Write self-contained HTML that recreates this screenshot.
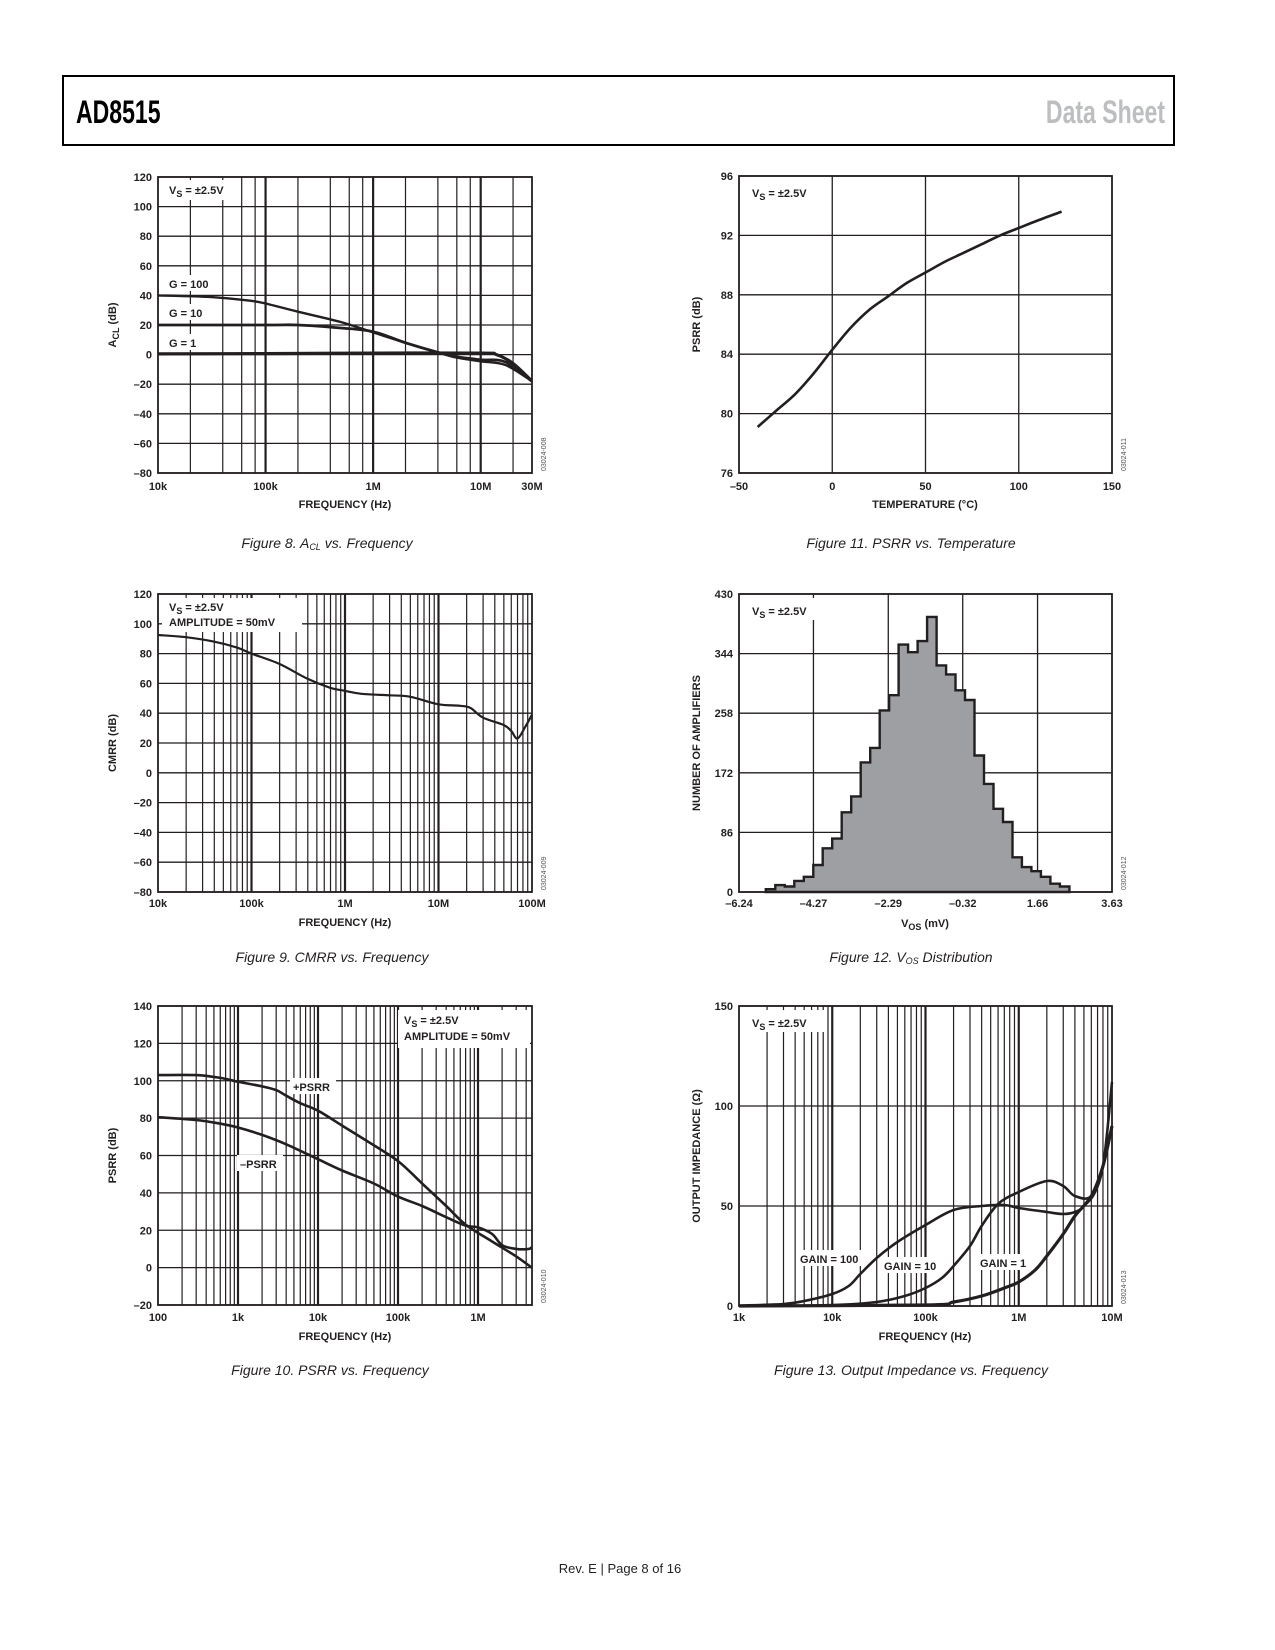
<!DOCTYPE html>
<html><head><meta charset="utf-8">
<style>
html,body{margin:0;padding:0;background:#fff;}
svg{display:block;}
text{font-family:"Liberation Sans",sans-serif;fill:#231f20;}
.tk{font-size:11px;font-weight:bold;}
.ax{font-size:11px;font-weight:bold;}
.cap{font-size:14px;font-style:italic;font-family:"Liberation Sans",sans-serif;}
.wm{font-size:7px;fill:#555;}
</style></head>
<body>
<svg id="page" width="1275" height="1650" viewBox="0 0 1275 1650" xmlns="http://www.w3.org/2000/svg">
  <rect x="63" y="76" width="1111" height="69" fill="none" stroke="#000" stroke-width="2"/>
  <text x="76" y="123" font-size="32" font-weight="bold" transform="translate(76,0) scale(0.72,1) translate(-76,0)" style="fill:#000">AD8515</text>
  <text x="1165" y="123" font-size="32" font-weight="bold" text-anchor="end" transform="translate(1165,0) scale(0.72,1) translate(-1165,0)" style="fill:#bcbec0">Data Sheet</text>
  <text x="620" y="1573" font-size="13" text-anchor="middle">Rev. E | Page 8 of 16</text>
  <g id="charts"></g>
</svg>
<script>
// ---------- Figure 8 data ----------
const f8_g100_f = [1e4,3e4,7e4,1e5,2e5,5e5,1e6,2e6,4e6,6e6,1e7,1.7e7,3e7];
const f8_g100_v = [40,39,36.5,34.5,29,22,15,8,1.5,-2,-4.5,-7,-18];
const f8_g10_f = [1e4,1e5,2e5,5e5,1e6,2e6,4e6,6e6,1e7,1.7e7,3e7];
const f8_g10_v = [20,20,20,18,15.5,8,1.5,-1.5,-3.5,-5,-18];
const f8_g1_f = [1e4,1e5,1e6,1e7,1.4e7,2e7,3e7];
const f8_g1_v = [0.5,0.7,1,1,0,-6,-18];
const f8_xticks = [1e4,1e5,1e6,1e7,3e7];
const f8_xlabels = ['10k','100k','1M','10M','30M'];
const dbTicks8 = [120,100,80,60,40,20,0,-20,-40,-60,-80];
// ---------- Figure 9 data ----------
const f9_f = [1e4,2e4,4e4,7e4,1e5,2e5,4e5,7e5,1e6,1.5e6,3e6,5e6,1e7,1.7e7,2.2e7,3e7,5e7,6e7,7e7,8.5e7,1e8];
const f9_v = [92.5,91,88,84,80,73,63,57,55,53,52,51,46,45,43.5,37,32,28,23,31,39];
const f9_xticks = [1e4,1e5,1e6,1e7,1e8];
const f9_xlabels = ['10k','100k','1M','10M','100M'];
// ---------- Figure 10 data ----------
const f10_pos_f = [100,300,600,1e3,2e3,3e3,4e3,6e3,1e4,2e4,4e4,1e5,2e5,4e5,7e5,1.5e6,3e6,4.7e6];
const f10_pos_v = [103,103,101.5,99.5,97,95,92,88,84,76,68,57,45,33,23,14,6,0];
const f10_neg_f = [100,300,600,1e3,2e3,4e3,1e4,2e4,5e4,1e5,2e5,4e5,7e5,1e6,1.5e6,2e6,3e6,4.3e6,4.7e6];
const f10_neg_v = [80.5,79,77,75,71,66,58,52,45,38,33,27,22.5,21.5,18,12,10,10,11];
const f10_xticks = [100,1e3,1e4,1e5,1e6];
const f10_xlabels = ['100','1k','10k','100k','1M'];
const dbTicks10 = [140,120,100,80,60,40,20,0,-20];
// ---------- Figure 11 data ----------
const f11_t = [-40,-30,-20,-10,0,10,20,30,40,50,60,70,80,90,100,110,123];
const f11_v = [79.1,80.2,81.3,82.7,84.3,85.8,87.0,87.9,88.8,89.5,90.2,90.8,91.4,92.0,92.5,93.0,93.6];
const f11_xticks = [-50,0,50,100,150];
const f11_yticks = [96,92,88,84,80,76];
// ---------- Figure 12 data ----------
const f12_binStart = -5.53;
const f12_binWidth = 0.251;
const f12_counts = [4,10,8,16,22,39,63,77,115,138,187,208,262,284,357,346,362,397,327,314,291,277,197,156,120,101,50,36,30,22,12,8];
const f12_xticks = [-6.24,-4.27,-2.29,-0.32,1.66,3.63];
const f12_yticks = [430,344,258,172,86,0];
// ---------- Figure 13 data ----------
const f13_g100_f = [1e3,3e3,5e3,1e4,1.5e4,2e4,3e4,5e4,1e5,2e5,4e5,7e5,1e6,2e6,3e6,4e6,5e6,7e6,1e7];
const f13_g100_v = [0.2,1,2.5,6,10,16,24,32,40.5,48,50,50.5,49,47,46,47,50,60,90];
const f13_g10_f = [1e3,1e4,3e4,6e4,1e5,1.5e5,2e5,3e5,4e5,6e5,1e6,2e6,3e6,4e6,6e6,8e6,1e7];
const f13_g10_v = [0,0.5,2,5,9,14,20,30,40,51,57,62.5,60,55,55,70,112];
const f13_g1_f = [1e3,1e5,2e5,4e5,7e5,1e6,1.5e6,2e6,3e6,4e6,6e6,8e6,1e7];
const f13_g1_v = [0,0.5,2,5,9,12,18,25,36,45,55,70,90];
const f13_xticks = [1e3,1e4,1e5,1e6,1e7];
const f13_xlabels = ['1k','10k','100k','1M','10M'];
const f13_yticks = [150,100,50,0];

const NS = 'http://www.w3.org/2000/svg';
const root = document.getElementById('charts');
function mk(tag, attrs, name, parent) {
  const e = document.createElementNS(NS, tag);
  for (const k in attrs) e.setAttribute(k, attrs[k]);
  
  
  (parent || root).appendChild(e);
  return e;
}
function txt(x, y, s, cls, name, anchor, parent) {
  const t = mk('text', {x: x, y: y, class: cls, 'text-anchor': anchor || 'start'}, name, parent);
  t.textContent = s;
  return t;
}
function fmt(v) { return (v < 0 ? '\u2013' + Math.abs(v) : '' + v); }
function makeScale(c) {
  const lx = v => c.log ? Math.log10(v) : v;
  c.sx = v => c.x0 + (lx(v) - lx(c.xmin)) / (lx(c.xmax) - lx(c.xmin)) * (c.x1 - c.x0);
  c.sy = v => c.y1 - (v - c.ymin) / (c.ymax - c.ymin) * (c.y1 - c.y0);
  return c;
}
function smoothPath(pts) {
  let d = 'M' + pts[0][0].toFixed(1) + ',' + pts[0][1].toFixed(1);
  for (let i = 0; i < pts.length - 1; i++) {
    const p0 = pts[i - 1] || pts[i], p1 = pts[i], p2 = pts[i + 1], p3 = pts[i + 2] || p2;
    const c1 = [p1[0] + (p2[0] - p0[0]) / 6, p1[1] + (p2[1] - p0[1]) / 6];
    const c2 = [p2[0] - (p3[0] - p1[0]) / 6, p2[1] - (p3[1] - p1[1]) / 6];
    d += 'C' + c1.join(',') + ' ' + c2.join(',') + ' ' + p2[0].toFixed(1) + ',' + p2[1].toFixed(1);
  }
  return d;
}
function curve(c, xs, ys, name, w) {
  const pts = xs.map((x, i) => [c.sx(x), c.sy(ys[i])]);
  mk('path', {d: smoothPath(pts), fill: 'none', stroke: '#231f20', 'stroke-width': w || 2.4, 'stroke-linejoin': 'round'}, name, c.g);
}
function frame(c, id, yticks, minors, wm) {
  c.g = mk('g', {}, id);
  const g = c.g;
  yticks.forEach(v => {
    mk('line', {x1: c.x0, x2: c.x1, y1: c.sy(v), y2: c.sy(v), stroke: '#231f20', 'stroke-width': 1.3}, 'h-gridline', g);
    txt(c.x0 - 6, c.sy(v) + 4, fmt(v), 'tk', 'y-tick-label', 'end', g);
  });
  if (c.log) {
    for (let d = Math.floor(Math.log10(c.xmin)); d <= Math.ceil(Math.log10(c.xmax)); d++) {
      minors.forEach(m => {
        const v = m * Math.pow(10, d);
        if (v <= c.xmin * 1.001 || v >= c.xmax * 0.999) return;
        mk('line', {x1: c.sx(v), x2: c.sx(v), y1: c.y0, y2: c.y1, stroke: '#231f20', 'stroke-width': m === 1 ? 2.2 : 1.2}, 'v-gridline', g);
      });
    }
  }
  mk('rect', {x: c.x0, y: c.y0, width: c.x1 - c.x0, height: c.y1 - c.y0, fill: 'none', stroke: '#231f20', 'stroke-width': 1.8}, 'plot-frame', g);
  const t = txt(c.x1 + 14, c.y1 - 2, wm, 'wm', 'figure-code', 'start', g);
  t.setAttribute('transform', 'rotate(-90 ' + (c.x1 + 14) + ' ' + (c.y1 - 2) + ')');
}
function xlab(c, ticks, labels, ty) {
  ticks.forEach((v, i) => txt(c.sx(v), ty, labels[i], 'tk', 'x-tick-label', 'middle', c.g));
}
function box(c, x, y, w, h) { mk('rect', {x: x, y: y, width: w, height: h, fill: '#fff'}, 'label-background', c.g); }
function ytitle(c, x, s, name) {
  const cy = (c.y0 + c.y1) / 2;
  const t = txt(x, cy, s, 'ax', name, 'middle', c.g);
  t.setAttribute('transform', 'rotate(-90 ' + x + ' ' + cy + ')');
  return t;
}
function vsLabel(c, x, y, name) {
  const t = mk('text', {x: x, y: y, class: 'ax'}, name, c.g);
  t.innerHTML = 'V<tspan font-size="9" dy="3">S</tspan><tspan dy="-3"> = \u00b12.5V</tspan>';
}

// ===== Figure 8 =====
const c8 = makeScale({x0: 158, x1: 532, y0: 177, y1: 473, xmin: 1e4, xmax: 3e7, ymin: -80, ymax: 120, log: true});
frame(c8, 'fig8-acl-chart', dbTicks8, [1, 2, 4, 6, 8], '03024-008');
box(c8, 162, 180, 78, 20); vsLabel(c8, 169, 194, 'vs-label');
box(c8, 162, 275, 52, 16); txt(169, 288, 'G = 100', 'ax', 'g100-label', 'start', c8.g);
box(c8, 162, 304, 46, 16); txt(169, 317, 'G = 10', 'ax', 'g10-label', 'start', c8.g);
box(c8, 162, 334, 40, 16); txt(169, 347, 'G = 1', 'ax', 'g1-label', 'start', c8.g);
curve(c8, f8_g100_f, f8_g100_v, 'g100-curve');
curve(c8, f8_g10_f, f8_g10_v, 'g10-curve', 2.8);
curve(c8, f8_g1_f, f8_g1_v, 'g1-curve', 3.2);
xlab(c8, f8_xticks, f8_xlabels, 490);
txt(345, 508, 'FREQUENCY (Hz)', 'ax', 'x-axis-title', 'middle', c8.g);
const yt8 = mk('text', {x: 0, y: 0, class: 'ax', 'text-anchor': 'middle', transform: 'translate(116,325) rotate(-90)'}, 'y-axis-title', c8.g);
yt8.innerHTML = 'A<tspan font-size="9" dy="3">CL</tspan><tspan dy="-3"> (dB)</tspan>';
const cap8 = mk('text', {x: 327, y: 548, class: 'cap', 'text-anchor': 'middle'}, 'figure-8-caption', c8.g);
cap8.innerHTML = 'Figure 8. A<tspan font-size="9" dy="2">CL</tspan><tspan dy="-2"> vs. Frequency</tspan>';

// ===== Figure 9 =====
const c9 = makeScale({x0: 158, x1: 532, y0: 594, y1: 892, xmin: 1e4, xmax: 1e8, ymin: -80, ymax: 120, log: true});
frame(c9, 'fig9-cmrr-chart', dbTicks8, [1, 2, 3, 4, 5, 6, 7, 8, 9], '03024-009');
box(c9, 162, 598, 140, 34); vsLabel(c9, 169, 611, 'vs-label');
txt(169, 626, 'AMPLITUDE = 50mV', 'ax', 'amplitude-label', 'start', c9.g);
curve(c9, f9_f, f9_v, 'cmrr-curve', 2.2);
xlab(c9, f9_xticks, f9_xlabels, 907);
txt(345, 926, 'FREQUENCY (Hz)', 'ax', 'x-axis-title', 'middle', c9.g);
ytitle(c9, 116, 'CMRR (dB)', 'y-axis-title');
txt(332, 962, 'Figure 9. CMRR vs. Frequency', 'cap', 'figure-9-caption', 'middle', c9.g);

// ===== Figure 10 =====
const c10 = makeScale({x0: 158, x1: 532, y0: 1006, y1: 1305, xmin: 100, xmax: 4.73e6, ymin: -20, ymax: 140, log: true});
frame(c10, 'fig10-psrr-chart', dbTicks10, [1, 2, 3, 4, 5, 6, 7, 8, 9], '03024-010');
box(c10, 398, 1010, 132, 38); vsLabel(c10, 404, 1024, 'vs-label');
txt(404, 1040, 'AMPLITUDE = 50mV', 'ax', 'amplitude-label', 'start', c10.g);
box(c10, 290, 1078, 46, 16); txt(293, 1091, '+PSRR', 'ax', 'pos-psrr-label', 'start', c10.g);
box(c10, 237, 1155, 46, 16); txt(240, 1168, '\u2013PSRR', 'ax', 'neg-psrr-label', 'start', c10.g);
curve(c10, f10_pos_f, f10_pos_v, 'pos-psrr-curve', 2.6);
curve(c10, f10_neg_f, f10_neg_v, 'neg-psrr-curve', 2.6);
xlab(c10, f10_xticks, f10_xlabels, 1321);
txt(345, 1340, 'FREQUENCY (Hz)', 'ax', 'x-axis-title', 'middle', c10.g);
ytitle(c10, 116, 'PSRR (dB)', 'y-axis-title');
txt(330, 1375, 'Figure 10. PSRR vs. Frequency', 'cap', 'figure-10-caption', 'middle', c10.g);

// ===== Figure 11 =====
const c11 = makeScale({x0: 739, x1: 1112, y0: 176, y1: 473, xmin: -50, xmax: 150, ymin: 76, ymax: 96, log: false});
frame(c11, 'fig11-psrr-temp-chart', f11_yticks, [], '03024-011');
f11_xticks.forEach(v => {
  if (v > -50 && v < 150) mk('line', {x1: c11.sx(v), x2: c11.sx(v), y1: 176, y2: 473, stroke: '#231f20', 'stroke-width': 1.3}, 'v-gridline', c11.g);
});
box(c11, 745, 180, 82, 22); vsLabel(c11, 752, 197, 'vs-label');
curve(c11, f11_t, f11_v, 'psrr-temp-curve', 2.6);
xlab(c11, f11_xticks, f11_xticks.map(fmt), 490);
txt(925, 508, 'TEMPERATURE (\u00b0C)', 'ax', 'x-axis-title', 'middle', c11.g);
ytitle(c11, 700, 'PSRR (dB)', 'y-axis-title');
txt(911, 548, 'Figure 11. PSRR vs. Temperature', 'cap', 'figure-11-caption', 'middle', c11.g);

// ===== Figure 12 =====
const c12 = makeScale({x0: 739, x1: 1112, y0: 594, y1: 892, xmin: -6.24, xmax: 3.63, ymin: 0, ymax: 430, log: false});
frame(c12, 'fig12-vos-histogram', f12_yticks, [], '03024-012');
f12_xticks.forEach(v => {
  if (v > -6.2 && v < 3.6) mk('line', {x1: c12.sx(v), x2: c12.sx(v), y1: 594, y2: 892, stroke: '#231f20', 'stroke-width': 1.3}, 'v-gridline', c12.g);
});
box(c12, 745, 598, 82, 22); vsLabel(c12, 752, 615, 'vs-label');
let hd = 'M' + c12.sx(f12_binStart) + ',' + c12.sy(0);
f12_counts.forEach((n, i) => {
  const xa = c12.sx(f12_binStart + i * f12_binWidth), xb = c12.sx(f12_binStart + (i + 1) * f12_binWidth);
  hd += 'L' + xa.toFixed(1) + ',' + c12.sy(n).toFixed(1) + 'L' + xb.toFixed(1) + ',' + c12.sy(n).toFixed(1);
});
hd += 'L' + c12.sx(f12_binStart + f12_counts.length * f12_binWidth).toFixed(1) + ',' + c12.sy(0) + 'Z';
mk('path', {d: hd, fill: '#9d9fa2', stroke: '#231f20', 'stroke-width': 2.4, 'stroke-linejoin': 'miter'}, 'histogram-bars', c12.g);
xlab(c12, f12_xticks, f12_xticks.map(v => fmt(v.toFixed(2))), 907);
const xt12 = mk('text', {x: 925, y: 927, class: 'ax', 'text-anchor': 'middle'}, 'x-axis-title', c12.g);
xt12.innerHTML = 'V<tspan font-size="9" dy="3">OS</tspan><tspan dy="-3"> (mV)</tspan>';
ytitle(c12, 700, 'NUMBER OF AMPLIFIERS', 'y-axis-title');
const cap12 = mk('text', {x: 911, y: 962, class: 'cap', 'text-anchor': 'middle'}, 'figure-12-caption', c12.g);
cap12.innerHTML = 'Figure 12. V<tspan font-size="9" dy="2">OS</tspan><tspan dy="-2"> Distribution</tspan>';

// ===== Figure 13 =====
const c13 = makeScale({x0: 739, x1: 1112, y0: 1006, y1: 1306, xmin: 1e3, xmax: 1e7, ymin: 0, ymax: 150, log: true});
frame(c13, 'fig13-impedance-chart', f13_yticks, [1, 2, 3, 4, 5, 6, 7, 8, 9], '03024-013');
box(c13, 745, 1010, 82, 22); vsLabel(c13, 752, 1027, 'vs-label');
curve(c13, f13_g100_f, f13_g100_v, 'gain100-curve', 2.6);
curve(c13, f13_g10_f, f13_g10_v, 'gain10-curve', 2.6);
curve(c13, f13_g1_f, f13_g1_v, 'gain1-curve', 3.2);
box(c13, 796, 1250, 66, 16); txt(800, 1263, 'GAIN = 100', 'ax', 'gain100-label', 'start', c13.g);
box(c13, 880, 1257, 60, 16); txt(884, 1270, 'GAIN = 10', 'ax', 'gain10-label', 'start', c13.g);
box(c13, 976, 1254, 54, 16); txt(980, 1267, 'GAIN = 1', 'ax', 'gain1-label', 'start', c13.g);
xlab(c13, f13_xticks, f13_xlabels, 1321);
txt(925, 1340, 'FREQUENCY (Hz)', 'ax', 'x-axis-title', 'middle', c13.g);
ytitle(c13, 700, 'OUTPUT IMPEDANCE (\u03a9)', 'y-axis-title');
txt(911, 1375, 'Figure 13. Output Impedance vs. Frequency', 'cap', 'figure-13-caption', 'middle', c13.g);
</script>
</body></html>
